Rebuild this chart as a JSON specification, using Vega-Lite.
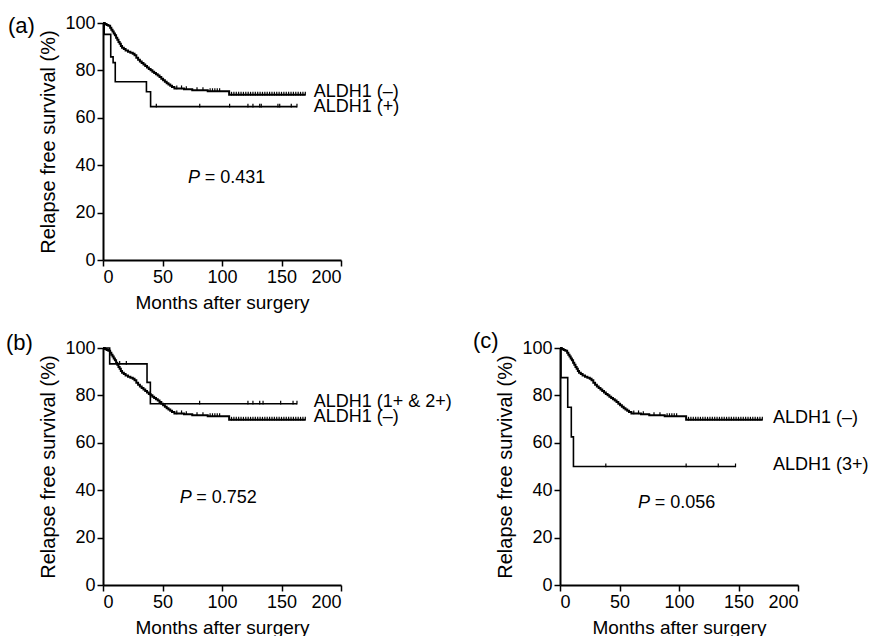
{
  "$schema": "https://vega.github.io/schema/vega-lite/v6.json",
  "padding": {"left": 6, "top": 14, "right": 5, "bottom": 5},
  "bounds": "flush",
  "spacing": 88,
  "config": {
    "font": "Liberation Sans",
    "view": {"stroke": null},
    "axis": {
      "domainColor": "black", "tickColor": "black", "labelColor": "black", "titleColor": "black",
      "labelFont": "Liberation Sans", "titleFont": "Liberation Sans",
      "labelFontSize": 18, "titleFontSize": 19, "titleFontWeight": "normal",
      "grid": false, "tickSize": 6, "domainWidth": 2, "tickWidth": 1.5, "labelPadding": 2
    },
    "axisY": {"titleFontSize": 20},
    "title": {"font": "Liberation Sans", "fontSize": 22, "fontWeight": "normal", "color": "black"}
  },
  "datasets": {
    "neg_curve": [
      {"t":0,"s":100},{"t":1.5,"s":99.6},{"t":3,"s":99.2},{"t":4.5,"s":98.8},{"t":6,"s":98},{"t":7,"s":97.2},{"t":8,"s":96.4},{"t":9,"s":95.6},{"t":10,"s":94.8},{"t":11,"s":93.8},{"t":12,"s":92.9},{"t":13,"s":92},{"t":14,"s":91.2},{"t":15,"s":90.3},{"t":16,"s":89.6},{"t":17.5,"s":89},{"t":19,"s":88.4},{"t":21,"s":87.9},{"t":23,"s":87.5},{"t":25,"s":87},{"t":26.5,"s":86.4},{"t":28,"s":85.3},{"t":29.5,"s":84.5},{"t":31,"s":83.8},{"t":32.5,"s":83.1},{"t":34,"s":82.5},{"t":35.5,"s":81.9},{"t":37,"s":81.2},{"t":38.5,"s":80.6},{"t":40,"s":80.1},{"t":41.5,"s":79.4},{"t":43,"s":78.9},{"t":44.5,"s":78.4},{"t":46,"s":77.8},{"t":47.5,"s":77.2},{"t":49,"s":76.5},{"t":50.5,"s":75.8},{"t":52,"s":75.2},{"t":53.5,"s":74.6},{"t":55,"s":74},{"t":56.5,"s":73.5},{"t":58,"s":73},{"t":60,"s":72.4},{"t":68,"s":72},{"t":75,"s":71.6},{"t":88,"s":71.2},{"t":106,"s":69.7},{"t":170,"s":69.7}
    ],
    "neg_cens": [
      {"t":62,"s":72.4},{"t":66,"s":72.4},{"t":70,"s":72},{"t":79,"s":71.6},{"t":84,"s":71.6},{"t":90,"s":71.2},{"t":92,"s":71.2},{"t":94,"s":71.2},{"t":96,"s":71.2},{"t":98,"s":71.2},
      {"t":108,"s":69.7},{"t":110,"s":69.7},{"t":112,"s":69.7},{"t":114,"s":69.7},{"t":116,"s":69.7},{"t":118,"s":69.7},{"t":120,"s":69.7},{"t":122,"s":69.7},{"t":124,"s":69.7},{"t":126,"s":69.7},{"t":128,"s":69.7},{"t":130,"s":69.7},{"t":132,"s":69.7},{"t":134,"s":69.7},{"t":136,"s":69.7},{"t":138,"s":69.7},{"t":140,"s":69.7},{"t":142,"s":69.7},{"t":144,"s":69.7},{"t":146,"s":69.7},{"t":148,"s":69.7},{"t":150,"s":69.7},{"t":152,"s":69.7},{"t":154,"s":69.7},{"t":156,"s":69.7},{"t":158,"s":69.7},{"t":160,"s":69.7},{"t":162,"s":69.7},{"t":164,"s":69.7},{"t":166,"s":69.7},{"t":168,"s":69.7},{"t":170,"s":69.7}
    ],
    "a_curve": [
      {"t":0,"s":100},{"t":1,"s":95.2},{"t":6.5,"s":85.7},{"t":8.5,"s":83.3},{"t":10.3,"s":75.2},{"t":36.5,"s":71},{"t":40,"s":64.7},{"t":163,"s":64.7}
    ],
    "a_cens": [
      {"t":44.8,"s":64.7},{"t":81.3,"s":64.7},{"t":106.4,"s":64.7},{"t":121.8,"s":64.7},{"t":126,"s":64.7},{"t":131.7,"s":64.7},{"t":133,"s":64.7},{"t":147,"s":64.7},{"t":148.5,"s":64.7},{"t":158.2,"s":64.7},{"t":163,"s":64.7}
    ],
    "a_text": [
      {"t":177,"s":68.6,"label":"ALDH1 (–)","italic":false},
      {"t":177,"s":62.3,"label":"ALDH1 (+)","italic":false},
      {"t":71.4,"s":32.6,"label":"P","italic":true},
      {"t":85.5,"s":32.6,"label":"= 0.431","italic":false}
    ],
    "b_curve": [
      {"t":0,"s":100},{"t":5.6,"s":93.3},{"t":37,"s":85.5},{"t":39.8,"s":76.5},{"t":163,"s":76.5}
    ],
    "b_cens": [
      {"t":14,"s":93.3},{"t":19.6,"s":93.3},{"t":81.2,"s":76.5},{"t":121.8,"s":76.5},{"t":126,"s":76.5},{"t":131.7,"s":76.5},{"t":134.5,"s":76.5},{"t":149.3,"s":76.5},{"t":159.7,"s":76.5},{"t":163,"s":76.5}
    ],
    "b_text": [
      {"t":177,"s":75,"label":"ALDH1 (1+ & 2+)","italic":false},
      {"t":177,"s":68.9,"label":"ALDH1 (–)","italic":false},
      {"t":64.4,"s":34.7,"label":"P","italic":true},
      {"t":78.4,"s":34.7,"label":"= 0.752","italic":false}
    ],
    "c_curve": [
      {"t":0,"s":100},{"t":0.8,"s":87.5},{"t":6.5,"s":75},{"t":9.5,"s":62.5},{"t":11.3,"s":50},{"t":147.5,"s":50}
    ],
    "c_cens": [
      {"t":38.5,"s":50},{"t":106,"s":50},{"t":133,"s":50},{"t":147.5,"s":50}
    ],
    "c_text": [
      {"t":179,"s":68.2,"label":"ALDH1 (–)","italic":false},
      {"t":179,"s":48.5,"label":"ALDH1 (3+)","italic":false},
      {"t":65.5,"s":32.4,"label":"P","italic":true},
      {"t":79.6,"s":32.4,"label":"= 0.056","italic":false}
    ]
  },
  "vconcat": [
    {
      "width": 238, "height": 237,
      "title": {"text": "(a)", "anchor": "start", "frame": "group", "orient": "top", "offset": 0, "dx": -95, "dy": 41, "baseline": "alphabetic"},
      "encoding": {
        "x": {"field": "t", "type": "quantitative", "scale": {"domain": [0, 200], "nice": false}, "axis": {"values": [0, 50, 100, 150, 200], "title": "Months after surgery", "titlePadding": 7}},
        "y": {"field": "s", "type": "quantitative", "scale": {"domain": [0, 100], "nice": false}, "axis": {"values": [0, 20, 40, 60, 80, 100], "title": "Relapse free survival (%)", "titlePadding": 6}}
      },
      "layer": [
        {"data": {"name": "neg_curve"}, "mark": {"type": "line", "interpolate": "step-after", "color": "black", "strokeWidth": 2}},
        {"data": {"name": "a_curve"}, "mark": {"type": "line", "interpolate": "step-after", "color": "black", "strokeWidth": 1.6}},
        {"data": {"name": "neg_cens"}, "mark": {"type": "point", "shape": "M0,-1L0,0.25", "size": 36, "filled": false, "color": "black", "strokeWidth": 1.2, "opacity": 1}},
        {"data": {"name": "a_cens"}, "mark": {"type": "point", "shape": "M0,-1L0,0.25", "size": 36, "filled": false, "color": "black", "strokeWidth": 1.2, "opacity": 1}},
        {"data": {"name": "a_text"}, "transform": [{"filter": "!datum.italic"}], "mark": {"type": "text", "align": "left", "baseline": "alphabetic", "fontSize": 18, "font": "Liberation Sans", "color": "black"}, "encoding": {"text": {"field": "label"}}},
        {"data": {"name": "a_text"}, "transform": [{"filter": "datum.italic"}], "mark": {"type": "text", "align": "left", "baseline": "alphabetic", "fontSize": 18, "font": "Liberation Sans", "fontStyle": "italic", "color": "black"}, "encoding": {"text": {"field": "label"}}}
      ]
    },
    {
      "bounds": "flush",
      "spacing": 219,
      "hconcat": [
        {
          "width": 238, "height": 237,
          "title": {"text": "(b)", "anchor": "start", "frame": "group", "orient": "top", "offset": 0, "dx": -97, "dy": 33, "baseline": "alphabetic"},
          "encoding": {
            "x": {"field": "t", "type": "quantitative", "scale": {"domain": [0, 200], "nice": false}, "axis": {"values": [0, 50, 100, 150, 200], "title": "Months after surgery", "titlePadding": 7}},
            "y": {"field": "s", "type": "quantitative", "scale": {"domain": [0, 100], "nice": false}, "axis": {"values": [0, 20, 40, 60, 80, 100], "title": "Relapse free survival (%)", "titlePadding": 6}}
          },
          "layer": [
            {"data": {"name": "neg_curve"}, "mark": {"type": "line", "interpolate": "step-after", "color": "black", "strokeWidth": 2}},
            {"data": {"name": "b_curve"}, "mark": {"type": "line", "interpolate": "step-after", "color": "black", "strokeWidth": 1.6}},
            {"data": {"name": "neg_cens"}, "mark": {"type": "point", "shape": "M0,-1L0,0.25", "size": 36, "filled": false, "color": "black", "strokeWidth": 1.2, "opacity": 1}},
            {"data": {"name": "b_cens"}, "mark": {"type": "point", "shape": "M0,-1L0,0.25", "size": 36, "filled": false, "color": "black", "strokeWidth": 1.2, "opacity": 1}},
            {"data": {"name": "b_text"}, "transform": [{"filter": "!datum.italic"}], "mark": {"type": "text", "align": "left", "baseline": "alphabetic", "fontSize": 18, "font": "Liberation Sans", "color": "black"}, "encoding": {"text": {"field": "label"}}},
            {"data": {"name": "b_text"}, "transform": [{"filter": "datum.italic"}], "mark": {"type": "text", "align": "left", "baseline": "alphabetic", "fontSize": 18, "font": "Liberation Sans", "fontStyle": "italic", "color": "black"}, "encoding": {"text": {"field": "label"}}}
          ]
        },
        {
          "width": 238, "height": 237,
          "title": {"text": "(c)", "anchor": "start", "frame": "group", "orient": "top", "offset": 0, "dx": -87, "dy": 31, "baseline": "alphabetic"},
          "encoding": {
            "x": {"field": "t", "type": "quantitative", "scale": {"domain": [0, 200], "nice": false}, "axis": {"values": [0, 50, 100, 150, 200], "title": "Months after surgery", "titlePadding": 7}},
            "y": {"field": "s", "type": "quantitative", "scale": {"domain": [0, 100], "nice": false}, "axis": {"values": [0, 20, 40, 60, 80, 100], "title": "Relapse free survival (%)", "titlePadding": 6}}
          },
          "layer": [
            {"data": {"name": "neg_curve"}, "mark": {"type": "line", "interpolate": "step-after", "color": "black", "strokeWidth": 2}},
            {"data": {"name": "c_curve"}, "mark": {"type": "line", "interpolate": "step-after", "color": "black", "strokeWidth": 1.6}},
            {"data": {"name": "neg_cens"}, "mark": {"type": "point", "shape": "M0,-1L0,0.25", "size": 36, "filled": false, "color": "black", "strokeWidth": 1.2, "opacity": 1}},
            {"data": {"name": "c_cens"}, "mark": {"type": "point", "shape": "M0,-1L0,0.25", "size": 36, "filled": false, "color": "black", "strokeWidth": 1.2, "opacity": 1}},
            {"data": {"name": "c_text"}, "transform": [{"filter": "!datum.italic"}], "mark": {"type": "text", "align": "left", "baseline": "alphabetic", "fontSize": 18, "font": "Liberation Sans", "color": "black"}, "encoding": {"text": {"field": "label"}}},
            {"data": {"name": "c_text"}, "transform": [{"filter": "datum.italic"}], "mark": {"type": "text", "align": "left", "baseline": "alphabetic", "fontSize": 18, "font": "Liberation Sans", "fontStyle": "italic", "color": "black"}, "encoding": {"text": {"field": "label"}}}
          ]
        }
      ]
    }
  ]
}
